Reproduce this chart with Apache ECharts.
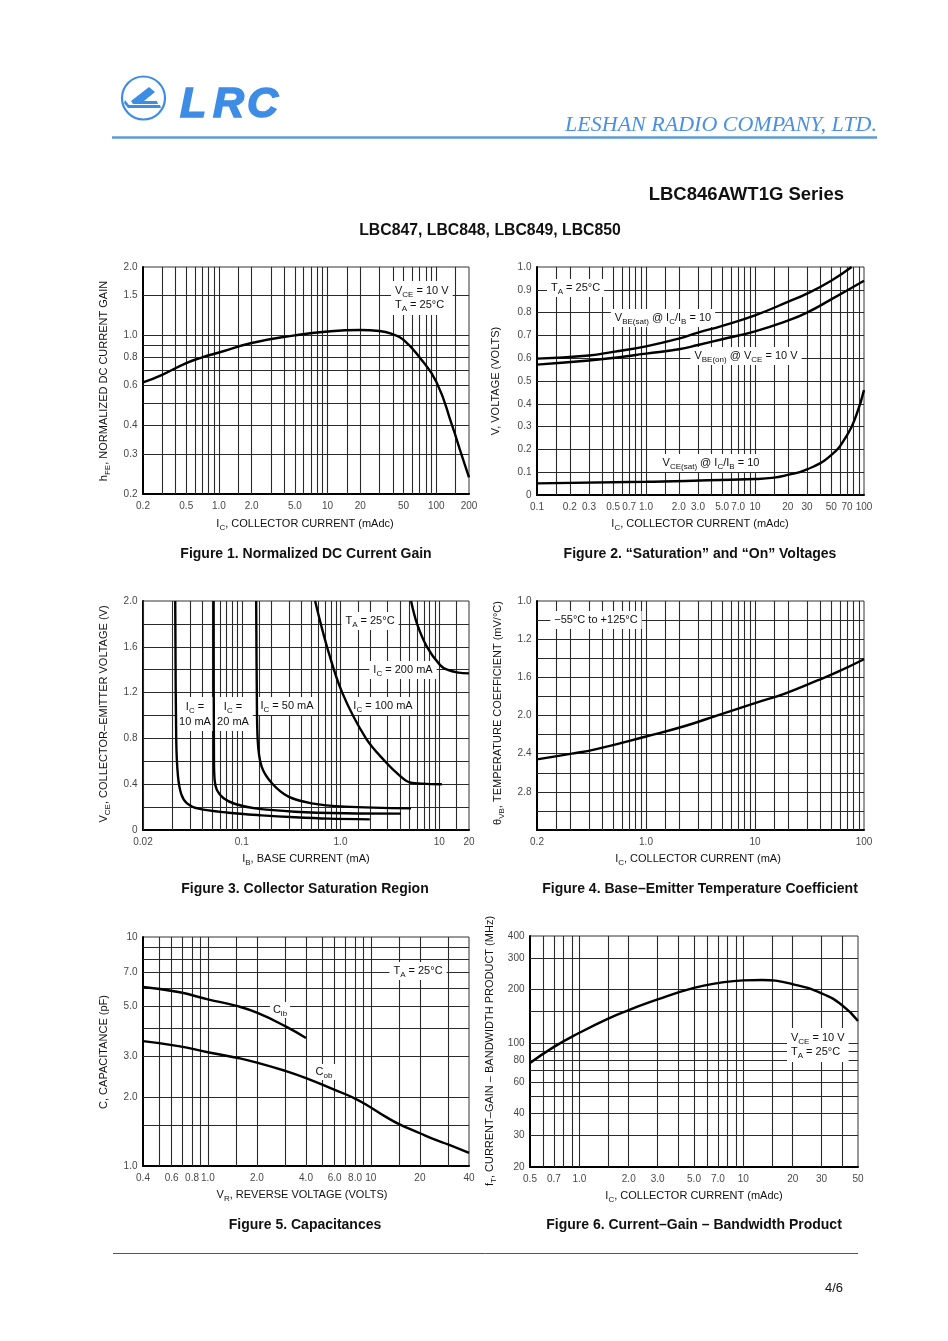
<!DOCTYPE html>
<html><head><meta charset="utf-8">
<script src="https://cdn.jsdelivr.net/npm/echarts@6.0.0/dist/echarts.min.js"></script>
<style>html,body{margin:0;padding:0;background:#fff}#c{width:948px;height:1341px}</style>
</head><body><div id="c"></div>
<script>
// ---------------- DATA ----------------
// Figure 1: normalized DC current gain
const fig1Ic  = [0.2, 0.3, 0.5, 0.7, 1.0, 2.0, 5.0, 10, 20, 30, 40, 50, 70, 100, 140, 170, 200];
const fig1Hfe = [0.62, 0.67, 0.755, 0.80, 0.84, 0.925, 1.0, 1.04, 1.055, 1.045, 1.01, 0.955, 0.80, 0.625, 0.40, 0.30, 0.237];
const fig1XTickVals = [0.2, 0.5, 1, 2, 5, 10, 20, 50, 100, 200];
const fig1XTickText = ['0.2','0.5','1.0','2.0','5.0','10','20','50','100','200'];
const fig1YTickVals = [0.2, 0.3, 0.4, 0.6, 0.8, 1.0, 1.5, 2.0];
const fig1YTickText = ['0.2','0.3','0.4','0.6','0.8','1.0','1.5','2.0'];

// Figure 2: saturation and on voltages
const fig2VbeSatIc = [0.1, 0.3, 0.5, 1.0, 2.0, 3.0, 5.0, 10, 20, 30, 50, 77];
const fig2VbeSatV  = [0.598, 0.612, 0.628, 0.652, 0.686, 0.712, 0.742, 0.788, 0.847, 0.883, 0.94, 1.0];
const fig2VbeOnIc  = [0.1, 0.3, 0.5, 1.0, 2.0, 3.0, 5.0, 10, 20, 30, 50, 100];
const fig2VbeOnV   = [0.572, 0.590, 0.601, 0.620, 0.639, 0.658, 0.683, 0.718, 0.765, 0.80, 0.858, 0.94];
const fig2VceSatIc = [0.1, 1.0, 10, 15, 20, 30, 50, 70, 85, 100];
const fig2VceSatV  = [0.051, 0.058, 0.07, 0.076, 0.088, 0.112, 0.175, 0.263, 0.35, 0.46];
const fig2XTickVals = [0.1, 0.2, 0.3, 0.5, 0.7, 1, 2, 3, 5, 7, 10, 20, 30, 50, 70, 100];
const fig2XTickText = ['0.1','0.2','0.3','0.5','0.7','1.0','2.0','3.0','5.0','7.0','10','20','30','50','70','100'];
const fig2YTickVals = [0, 0.1, 0.2, 0.3, 0.4, 0.5, 0.6, 0.7, 0.8, 0.9, 1.0];
const fig2YTickText = ['0','0.1','0.2','0.3','0.4','0.5','0.6','0.7','0.8','0.9','1.0'];

// Figure 3: collector saturation region
const fig3Ib10  = [0.0212, 0.0217, 0.0226, 0.0244, 0.0279, 0.0366, 0.0735, 0.159, 0.345, 0.75, 1.98];
const fig3Vce10 = [2.0, 0.79, 0.47, 0.314, 0.233, 0.186, 0.151, 0.128, 0.111, 0.099, 0.093];
const fig3Ib20  = [0.0519, 0.0523, 0.0531, 0.056, 0.0655, 0.0859, 0.137, 0.346, 1.11, 4.1];
const fig3Vce20 = [2.0, 0.64, 0.437, 0.349, 0.277, 0.227, 0.189, 0.16, 0.146, 0.143];
const fig3Ib50  = [0.14, 0.142, 0.145, 0.159, 0.202, 0.297, 0.51, 1.11, 5.18];
const fig3Vce50 = [2.0, 1.22, 0.786, 0.553, 0.408, 0.291, 0.233, 0.204, 0.189];
const fig3Ib100  = [0.553, 0.73, 1.04, 1.81, 2.82, 3.8, 5.06, 7.5, 10.6];
const fig3Vce100 = [2.0, 1.6, 1.2, 0.8, 0.6, 0.49, 0.415, 0.403, 0.399];
const fig3Ib200  = [5.18, 5.96, 7.5, 10.2, 12.0, 15.6, 20];
const fig3Vce200 = [2.0, 1.80, 1.60, 1.44, 1.40, 1.374, 1.368];
const fig3XTickVals = [0.01, 0.1, 1, 10, 20];
const fig3XTickText = ['0.02','0.1','1.0','10','20'];
const fig3YTickVals = [0, 0.4, 0.8, 1.2, 1.6, 2.0];
const fig3YTickText = ['0','0.4','0.8','1.2','1.6','2.0'];

// Figure 4: base-emitter temperature coefficient
const fig4Ic = [0.1, 0.209, 0.342, 1.0, 2.28, 4.61, 10, 18.8, 37.9, 57.9, 100];
const fig4Tc = [2.46, 2.40, 2.355, 2.22, 2.11, 1.995, 1.87, 1.77, 1.63, 1.54, 1.41];
const fig4XTickVals = [0.1, 1, 10, 100];
const fig4XTickText = ['0.2','1.0','10','100'];
const fig4YTickVals = [0.8, 1.2, 1.6, 2.0, 2.4, 2.8];
const fig4YTickText = ['1.0','1.2','1.6','2.0','2.4','2.8'];

// Figure 5: capacitances
const fig5VrCib = [0.4, 0.66, 1.0, 1.5, 2.0, 3.0, 4.0];
const fig5Cib   = [6.05, 5.75, 5.34, 5.0, 4.67, 4.07, 3.62];
const fig5VrCob = [0.4, 0.66, 1.0, 1.5, 2.0, 3.0, 4.0, 6.0, 8.0, 10, 12, 15, 20, 25, 30, 40];
const fig5Cob   = [3.51, 3.34, 3.14, 2.97, 2.83, 2.60, 2.42, 2.15, 1.97, 1.80, 1.66, 1.52, 1.39, 1.30, 1.24, 1.14];
const fig5XTickVals = [0.4, 0.6, 0.8, 1, 2, 4, 6, 8, 10, 20, 40];
const fig5XTickText = ['0.4','0.6','0.8','1.0','2.0','4.0','6.0','8.0','10','20','40'];
const fig5YTickVals = [1, 2, 3, 5, 7, 10];
const fig5YTickText = ['1.0','2.0','3.0','5.0','7.0','10'];

// Figure 6: current-gain bandwidth product
const fig6Ic = [0.5, 0.7, 1.0, 1.5, 2.0, 3.0, 5.0, 7.0, 10, 13, 20, 30, 40, 50];
const fig6Ft = [77, 95, 114, 137, 153, 176, 204, 217, 225, 226, 214, 190, 163, 133];
const fig6XTickVals = [0.5, 0.7, 1, 2, 3, 5, 7, 10, 20, 30, 50];
const fig6XTickText = ['0.5','0.7','1.0','2.0','3.0','5.0','7.0','10','20','30','50'];
const fig6YTickVals = [20, 30, 40, 60, 80, 100, 200, 300, 400];
const fig6YTickText = ['20','30','40','60','80','100','200','300','400'];

// grid-line mantissas per decade on log axes
const LOG_MANTISSAS = [1, 1.5, 2, 3, 4, 5, 6, 7, 8, 9];
const fig2HLines = [0.1, 0.2, 0.3, 0.4, 0.5, 0.6, 0.7, 0.8, 0.9];
const fig3HLines = [0.2, 0.4, 0.6, 0.8, 1.0, 1.2, 1.4, 1.6, 1.8];
const fig4HLines = [1.0, 1.2, 1.4, 1.6, 1.8, 2.0, 2.2, 2.4, 2.6, 2.8, 3.0];

// ---------------- LAYOUT / STYLE ----------------
const F = '"Liberation Sans", Arial, Helvetica, sans-serif';
const BLUE = '#3d8de6';
const INK = '#111';
const GRIDS = [
  {left:143, top:267, width:326, height:227},
  {left:537, top:267, width:327, height:228},
  {left:143, top:601, width:326, height:229},
  {left:537, top:601, width:327, height:229},
  {left:143, top:937, width:326, height:229},
  {left:530, top:936, width:328, height:231}
];
const AX = [
  {x:[0.2,200], yType:'log',   y:[0.2,2]},
  {x:[0.1,100], yType:'value', y:[0,1]},
  {x:[0.01,20], yType:'value', y:[0,2]},
  {x:[0.1,100], yType:'value', y:[0.8,3.2], inverse:true},
  {x:[0.4,40],  yType:'log',   y:[1,10]},
  {x:[0.5,50],  yType:'log',   y:[20,400]}
];

function logLines(min, max) {
  const out = [];
  for (let e = Math.floor(Math.log10(min)) - 1; e <= Math.ceil(Math.log10(max)); e++) {
    LOG_MANTISSAS.forEach(m => {
      const v = +(m * Math.pow(10, e)).toPrecision(6);
      if (v > min * 1.0001 && v < max * 0.9999) out.push(v);
    });
  }
  return out;
}
const H_LINES = [logLines(0.2,2), fig2HLines, fig3HLines, fig4HLines, logLines(1,10), logLines(20,400)];

function gridSeries(i) {
  const a = AX[i];
  const xs = logLines(a.x[0], a.x[1]);
  return {
    type:'line', xAxisIndex:i, yAxisIndex:i, data:[[a.x[0], a.y[0]]], symbol:'none', z:1, silent:true,
    lineStyle:{width:0},
    markLine:{z:1, silent:true, symbol:['none','none'], label:{show:false}, animation:false,
      emphasis:{disabled:true},
      lineStyle:{color:'#2a2a2a', width:1.1, type:'solid'},
      data: xs.map(v => ({xAxis:v})).concat(H_LINES[i].map(v => ({yAxis:v})))}
  };
}
function curve(i, xs, ys, extra) {
  return Object.assign({
    type:'line', xAxisIndex:i, yAxisIndex:i, data: xs.map((x,k) => [x, ys[k]]),
    showSymbol:false, symbol:'none', smooth:0.5, z:5, silent:true,
    lineStyle:{color:'#000', width:2.4}
  }, extra || {});
}
function xTicks(i, vals, texts) {
  const a = AX[i]; const yb = a.inverse ? a.y[1] : a.y[0];
  return {type:'scatter', xAxisIndex:i, yAxisIndex:i, symbolSize:1, clip:false, silent:true, z:6,
    itemStyle:{color:'rgba(0,0,0,0)'},
    data: vals.map((v,k) => ({value:[v, yb], name:texts[k]})),
    label:{show:true, position:'bottom', distance:7, formatter:'{b}', color:INK, fontSize:10, fontFamily:F}};
}
function yTicks(i, vals, texts) {
  const a = AX[i];
  return {type:'scatter', xAxisIndex:i, yAxisIndex:i, symbolSize:1, clip:false, silent:true, z:6,
    itemStyle:{color:'rgba(0,0,0,0)'},
    data: vals.map((v,k) => ({value:[a.x[0], v], name:texts[k]})),
    label:{show:true, position:'left', distance:5, formatter:'{b}', color:INK, fontSize:10, fontFamily:F}};
}

// rich text: "V_{CE} = 10 V" -> subscript tokens
function richLine(s) {
  let out = '', last = 0, m; const re = /_\{([^}]*)\}/g;
  while ((m = re.exec(s))) {
    if (m.index > last) out += '{n|' + s.slice(last, m.index) + '}';
    out += '{s|' + m[1] + '}'; last = re.lastIndex;
  }
  if (last < s.length) out += '{n|' + s.slice(last) + '}';
  return out;
}
function txt(x, y, s, o) {
  o = o || {};
  const fs = o.fs || 11, sub = o.sub || Math.round(fs * 0.75);
  const fam = o.family || F, w = o.bold ? 'bold' : 'normal', st = o.italic ? 'italic' : 'normal';
  const col = o.color || INK;
  const el = {type:'text', x:x, y:y, rotation:o.rot || 0, z:o.z || 10, silent:true,
    style:{text: s.split('\n').map(richLine).join('\n'), align:o.align || 'center', verticalAlign:'middle',
      lineHeight:o.lh || (fs + 3), fontFamily:fam, fontSize:fs, fontWeight:w, fontStyle:st, fill:col,
      rich:{
        n:{fontSize:fs, fontFamily:fam, fontWeight:w, fontStyle:st, fill:col},
        s:{fontSize:sub, fontFamily:fam, fontWeight:w, fontStyle:st, fill:col, padding:[Math.round(fs*0.7),0,0,0]}
      }}};
  if (o.bg) { el.style.backgroundColor = o.bg; el.style.padding = o.pad || [2,4,2,4]; }
  return el;
}
function note(x, y, s, o) { return txt(x, y, s, Object.assign({bg:'#fff', z:3}, o || {})); }
function logoLetter(x, ch) {
  return {type:'text', x:x, y:105, z:10, silent:true,
    style:{text:ch, align:'left', verticalAlign:'middle', fontFamily:F, fontSize:43, fontWeight:'bold', fontStyle:'italic',
      fill:BLUE, stroke:BLUE, lineWidth:1.6}};
}

// ---------------- GRAPHICS (page text) ----------------
const graphics = [
  {type:'circle', shape:{cx:143.5, cy:98, r:21.5}, style:{fill:'none', stroke:BLUE, lineWidth:2.2}},
  {type:'polygon', shape:{points:[[149,87],[155,92],[144,101],[157,101],[158,104],[133,104],[131,101]]}, style:{fill:BLUE}},
  {type:'polygon', shape:{points:[[125,100],[129,105],[160,105],[161,108],[128,108],[124,103]]}, style:{fill:BLUE}},
  logoLetter(180, 'L'), logoLetter(213, 'R'), logoLetter(247, 'C'),
  txt(877, 125, 'LESHAN RADIO COMPANY, LTD.', {fs:22, italic:true, align:'right', color:'#4a90e2', family:'"Liberation Serif", "Times New Roman", serif'}),
  {type:'line', shape:{x1:112, y1:137.5, x2:877, y2:137.5}, style:{stroke:'#5b9bd5', lineWidth:2.5}},
  txt(844, 195, 'LBC846AWT1G Series', {fs:18.5, bold:true, align:'right'}),
  txt(490, 231, 'LBC847, LBC848, LBC849, LBC850', {fs:15.8, bold:true}),

  // captions
  txt(306, 554, 'Figure 1. Normalized DC Current Gain', {fs:14, bold:true}),
  txt(700, 554, 'Figure 2. \u201cSaturation\u201d and \u201cOn\u201d Voltages', {fs:14, bold:true}),
  txt(305, 889, 'Figure 3. Collector Saturation Region', {fs:14, bold:true}),
  txt(700, 889, 'Figure 4. Base\u2013Emitter Temperature Coefficient', {fs:14, bold:true}),
  txt(305, 1225, 'Figure 5. Capacitances', {fs:14, bold:true}),
  txt(694, 1225, 'Figure 6. Current\u2013Gain \u2013 Bandwidth Product', {fs:14, bold:true}),

  // axis titles
  txt(305, 524, 'I_{C}, COLLECTOR CURRENT (mAdc)'),
  txt(104, 381, 'h_{FE}, NORMALIZED DC CURRENT GAIN', {rot:Math.PI/2}),
  txt(700, 524, 'I_{C}, COLLECTOR CURRENT (mAdc)'),
  txt(496, 381, 'V, VOLTAGE (VOLTS)', {rot:Math.PI/2}),
  txt(306, 859, 'I_{B}, BASE CURRENT (mA)'),
  txt(104, 714, 'V_{CE}, COLLECTOR\u2013EMITTER VOLTAGE (V)', {rot:Math.PI/2}),
  txt(698, 859, 'I_{C}, COLLECTOR CURRENT (mA)'),
  txt(498, 713, '\u03b8_{VB}, TEMPERATURE COEFFICIENT (mV/\u00b0C)', {rot:Math.PI/2}),
  txt(302, 1195, 'V_{R}, REVERSE VOLTAGE (VOLTS)'),
  txt(104, 1052, 'C, CAPACITANCE (pF)', {rot:Math.PI/2}),
  txt(694, 1196, 'I_{C}, COLLECTOR CURRENT (mAdc)'),
  txt(490, 1051, 'f_{T}, CURRENT\u2013GAIN \u2013 BANDWIDTH PRODUCT (MHz)', {rot:Math.PI/2}),

  // annotations
  note(391, 298, 'V_{CE} = 10 V\nT_{A} = 25\u00b0C', {align:'left', pad:[3,4,3,4]}),
  note(547, 288, 'T_{A} = 25\u00b0C', {align:'left'}),
  note(663, 318, 'V_{BE(sat)} @ I_{C}/I_{B} = 10'),
  note(746, 356, 'V_{BE(on)} @ V_{CE} = 10 V'),
  note(711, 463, 'V_{CE(sat)} @ I_{C}/I_{B} = 10'),
  note(370, 621, 'T_{A} = 25\u00b0C'),
  note(403, 670, 'I_{C} = 200 mA'),
  note(383, 706, 'I_{C} = 100 mA'),
  note(287, 706, 'I_{C} = 50 mA'),
  note(233, 714, 'I_{C} =\n20 mA', {lh:15}),
  note(195, 714, 'I_{C} =\n10 mA', {lh:15}),
  note(596, 620, '\u221255\u00b0C to +125\u00b0C'),
  note(418, 971, 'T_{A} = 25\u00b0C'),
  note(280, 1010, 'C_{ib}', {pad:[1,3,1,3]}),
  note(324, 1072, 'C_{ob}', {pad:[1,3,1,3]}),
  note(787, 1045, 'V_{CE} = 10 V\nT_{A} = 25\u00b0C', {align:'left', pad:[3,4,3,4]}),

  // footer
  {type:'line', shape:{x1:113, y1:1253.5, x2:858, y2:1253.5}, style:{stroke:'#555', lineWidth:1}},
  txt(834, 1288, '4/6', {fs:13})
];

// ---------------- SERIES ----------------
const series = [];
for (let i = 0; i < 6; i++) series.push(gridSeries(i));
series.push(curve(0, fig1Ic, fig1Hfe));
series.push(curve(1, fig2VbeSatIc, fig2VbeSatV));
series.push(curve(1, fig2VbeOnIc, fig2VbeOnV));
series.push(curve(1, fig2VceSatIc, fig2VceSatV));
const soft = {smooth:0.35};
series.push(curve(2, fig3Ib10, fig3Vce10, soft));
series.push(curve(2, fig3Ib20, fig3Vce20, soft));
series.push(curve(2, fig3Ib50, fig3Vce50, soft));
series.push(curve(2, fig3Ib100, fig3Vce100, soft));
series.push(curve(2, fig3Ib200, fig3Vce200, soft));
series.push(curve(3, fig4Ic, fig4Tc));
series.push(curve(4, fig5VrCib, fig5Cib));
series.push(curve(4, fig5VrCob, fig5Cob));
series.push(curve(5, fig6Ic, fig6Ft));
[[fig1XTickVals, fig1XTickText, fig1YTickVals, fig1YTickText],
 [fig2XTickVals, fig2XTickText, fig2YTickVals, fig2YTickText],
 [fig3XTickVals, fig3XTickText, fig3YTickVals, fig3YTickText],
 [fig4XTickVals, fig4XTickText, fig4YTickVals, fig4YTickText],
 [fig5XTickVals, fig5XTickText, fig5YTickVals, fig5YTickText],
 [fig6XTickVals, fig6XTickText, fig6YTickVals, fig6YTickText]].forEach((t, i) => {
  series.push(xTicks(i, t[0], t[1]));
  series.push(yTicks(i, t[2], t[3]));
});

const axisCommon = {
  axisLine:{show:true, onZero:false, lineStyle:{color:'#000', width:2}},
  axisTick:{show:false}, axisLabel:{show:false}, splitLine:{show:false},
  minorTick:{show:false}, minorSplitLine:{show:false}
};
const option = {
  animation:false,
  backgroundColor:'#fff',
  textStyle:{fontFamily:F},
  grid: GRIDS.map(g => Object.assign({show:true, borderColor:'#333', borderWidth:1, backgroundColor:'transparent', containLabel:false, outerBoundsMode:'none'}, g)),
  xAxis: AX.map((a, i) => Object.assign({type:'log', logBase:10, gridIndex:i, min:a.x[0], max:a.x[1], position:'bottom'}, axisCommon)),
  yAxis: AX.map((a, i) => Object.assign({type:a.yType, gridIndex:i, min:a.y[0], max:a.y[1], inverse:!!a.inverse, position:'left'},
    a.yType === 'log' ? {logBase:10} : {}, axisCommon)),
  series: series,
  graphic: {elements: graphics}
};
const chart = echarts.init(document.getElementById('c'), null, {renderer:'canvas'});
chart.setOption(option);
</script>
</body></html>
